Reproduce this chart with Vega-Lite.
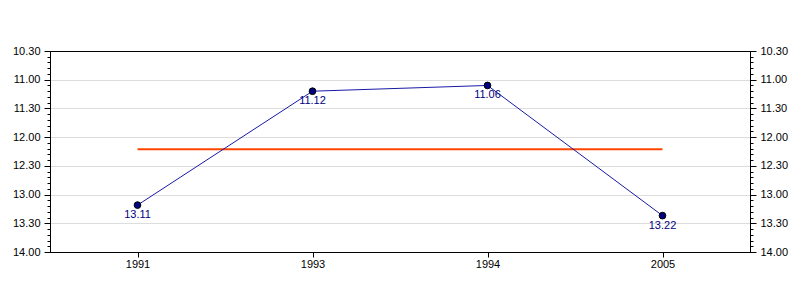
{
  "$schema": "https://vega.github.io/schema/vega-lite/v6.json",
  "width": 700,
  "height": 201,
  "autosize": "none",
  "padding": {"left": 50, "top": 51, "right": 50, "bottom": 48},
  "background": "white",
  "config": {
    "view": {"stroke": "black", "strokeWidth": 1},
    "axis": {
      "labelFont": "Liberation Sans",
      "labelFontSize": 11,
      "labelColor": "black",
      "domainColor": "black",
      "tickColor": "black",
      "gridColor": "#dddddd",
      "title": null
    }
  },
  "data": {
    "values": [
      {"year": "1991", "seconds": 791, "label": "13.11"},
      {"year": "1993", "seconds": 672, "label": "11.12"},
      {"year": "1994", "seconds": 666, "label": "11.06"},
      {"year": "2005", "seconds": 802, "label": "13.22"}
    ]
  },
  "encoding": {
    "x": {
      "field": "year",
      "type": "ordinal",
      "scale": {"type": "point", "padding": 0.5},
      "axis": {"labelAngle": 0, "grid": false, "tickSize": 5, "labelPadding": 1, "domain": true}
    }
  },
  "layer": [
    {
      "transform": [{"aggregate": [{"op": "mean", "field": "seconds", "as": "mean"}]}],
      "mark": {"type": "rule", "color": "#ff4500", "strokeWidth": 2},
      "encoding": {
        "x": {"datum": "1991", "type": "ordinal"},
        "x2": {"datum": "2005"},
        "y": {"field": "mean", "type": "quantitative", "scale": {"domain": [630, 840], "reverse": true, "nice": false, "zero": false}, "axis": null}
      }
    },
    {
      "mark": {"type": "line", "color": "#1a1aa6", "strokeWidth": 1},
      "encoding": {
        "y": {
          "field": "seconds",
          "type": "quantitative",
          "scale": {"domain": [630, 840], "reverse": true, "nice": false, "zero": false},
          "axis": {
            "orient": "left",
            "values": [630,636,642,648,654,660,666,672,678,684,690,696,702,708,714,720,726,732,738,744,750,756,762,768,774,780,786,792,798,804,810,816,822,828,834,840],
            "labelExpr": "datum.value % 30 === 0 ? floor(datum.value/60) + '.' + (datum.value % 60 < 10 ? '0' : '') + (datum.value % 60) : ''",
            "labelOverlap": false,
            "labelPadding": 4,
            "tickSize": {"condition": {"test": "datum.value % 30 === 0", "value": 6}, "value": 3},
            "grid": true,
            "gridOpacity": {"condition": {"test": "datum.value % 30 === 0 && datum.value > 630 && datum.value < 840", "value": 1}, "value": 0}
          }
        }
      }
    },
    {
      "mark": {"type": "point", "filled": true, "fill": "#000080", "stroke": "black", "strokeWidth": 1, "size": 45, "opacity": 1},
      "encoding": {
        "y": {
          "field": "seconds",
          "type": "quantitative",
          "scale": {"domain": [630, 840], "reverse": true, "nice": false, "zero": false},
          "axis": {
            "orient": "right",
            "values": [630,636,642,648,654,660,666,672,678,684,690,696,702,708,714,720,726,732,738,744,750,756,762,768,774,780,786,792,798,804,810,816,822,828,834,840],
            "labelExpr": "datum.value % 30 === 0 ? floor(datum.value/60) + '.' + (datum.value % 60 < 10 ? '0' : '') + (datum.value % 60) : ''",
            "labelOverlap": false,
            "labelPadding": 4,
            "tickSize": {"condition": {"test": "datum.value % 30 === 0", "value": 6}, "value": 3},
            "grid": false
          }
        }
      }
    },
    {
      "mark": {"type": "text", "color": "#000080", "font": "Liberation Sans", "fontSize": 11, "dy": 10},
      "encoding": {
        "y": {"field": "seconds", "type": "quantitative", "scale": {"domain": [630, 840], "reverse": true, "nice": false, "zero": false}, "axis": null},
        "text": {"field": "label"}
      }
    }
  ],
  "resolve": {"axis": {"y": "independent"}}
}
